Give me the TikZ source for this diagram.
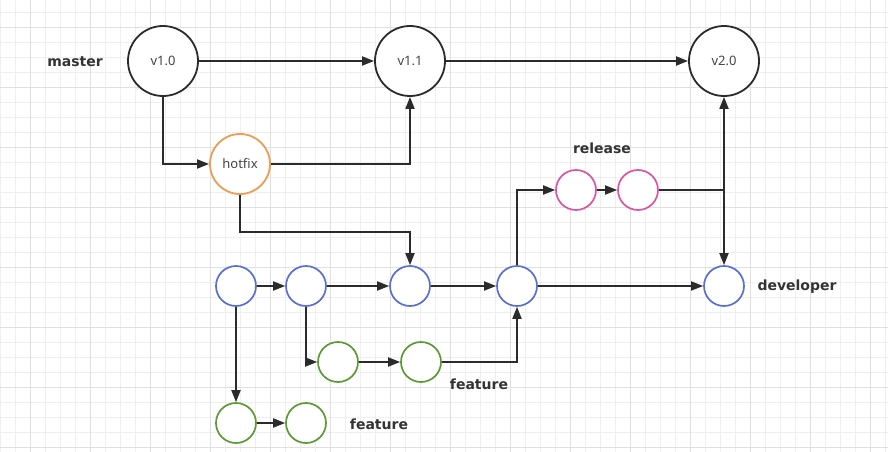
\documentclass[tikz,border=0pt]{standalone}
\usepackage{fontspec}
\setmainfont{Noto Sans}
\newfontfamily\lblfont{DejaVu Sans}
\usetikzlibrary{arrows.meta}
\definecolor{gridminor}{HTML}{EFEFEF}
\definecolor{gridmajor}{HTML}{E0E0E0}
\definecolor{ink}{HTML}{2B2B2B}
\definecolor{txt}{HTML}{444444}
\definecolor{lbl}{HTML}{333333}
\definecolor{corange}{HTML}{EE9D50}
\definecolor{cpink}{HTML}{DD55A0}
\definecolor{cblue}{HTML}{5A6FD6}
\definecolor{cgreen}{HTML}{5C9A33}
\begin{document}
\begin{tikzpicture}[x=1pt,y=-1pt,
  big/.style={circle, draw=ink, fill=white, line width=1.8pt, minimum size=70pt, inner sep=0pt, font=\fontsize{13}{15}\selectfont, text=txt},
  hotbox/.style={circle, draw=corange, fill=white, line width=1.8pt, minimum size=60pt, inner sep=0pt, font=\fontsize{13}{15}\selectfont, text=txt},
  commit/.style={circle, fill=white, line width=1.7pt, minimum size=40pt, inner sep=0pt},
  relc/.style={commit, draw=cpink},
  devc/.style={commit, draw=cblue},
  featc/.style={commit, draw=cgreen},
  branchlbl/.style={font=\lblfont\fontsize{14}{17}\selectfont\bfseries, text=lbl},
  conn/.style={draw=ink, line width=1.8pt, -{Triangle[length=12pt,width=9pt]}}
]
\useasboundingbox (0,0) rectangle (888,452);
\fill[white] (0,0) rectangle (888,452);
\foreach \i in {0,...,59} \draw[gridminor, line width=0.7pt] ({0.7+15*\i},0) -- ++(0,452);
\foreach \j in {0,...,30} \draw[gridminor, line width=0.7pt] (0,{12+15*\j}) -- ++(888,0);
\foreach \i in {0,...,14} \draw[gridmajor, line width=0.8pt] ({30.7+60*\i},0) -- ++(0,452);
\foreach \j in {0,...,7} \draw[gridmajor, line width=0.8pt] (0,{27+60*\j}) -- ++(888,0);

% master
\node[big] (v10) at (163,61) {v1.0};
\node[big] (v11) at (410,61) {v1.1};
\node[big] (v20) at (724,61) {v2.0};
\node[hotbox] (hot) at (240,164) {hotfix};
% release
\node[relc] (r1) at (576,190) {};
\node[relc] (r2) at (638,190) {};
% developer
\node[devc] (b1) at (236,286) {};
\node[devc] (b2) at (306,286) {};
\node[devc] (b3) at (410,286) {};
\node[devc] (b4) at (517,286) {};
\node[devc] (dev) at (724,286) {};
% feature
\node[featc] (g1) at (338,362) {};
\node[featc] (g2) at (421,362) {};
\node[featc] (g3) at (236,423) {};
\node[featc] (g4) at (306,423) {};

% labels
\node[branchlbl] (lmaster) at (75,62) {master};
\node[branchlbl] (lrelease) at (602,148) {release};
\node[branchlbl] (ldev) at (797,287) {developer};
\node[branchlbl] (lfeat1) at (479,384) {feature};
\node[branchlbl] (lfeat2) at (379,424) {feature};

% connectors
\draw[conn] (v10) -- (v11);
\draw[conn] (v11) -- (v20);
\draw[conn] (v10.south) |- (hot.west);
\draw[conn] (hot.east) -| (v11.south);
\draw[conn] (hot.south) -- ++(0,37) -| (b3.north);
\draw[conn] (b1) -- (b2);
\draw[conn] (b2) -- (b3);
\draw[conn] (b3) -- (b4);
\draw[conn] (b4) -- (dev);
\draw[conn] (b4.north) |- (r1.west);
\draw[conn] (r1) -- (r2);
\draw[conn] (r2.east) -| (v20.south);
\draw[conn] (r2.east) -| (dev.north);
\draw[conn] (b1.south) -- (g3.north);
\draw[conn] (b2.south) |- (g1.west);
\draw[conn] (g1) -- (g2);
\draw[conn] (g2.east) -| (b4.south);
\draw[conn] (g3) -- (g4);
\end{tikzpicture}
\end{document}
